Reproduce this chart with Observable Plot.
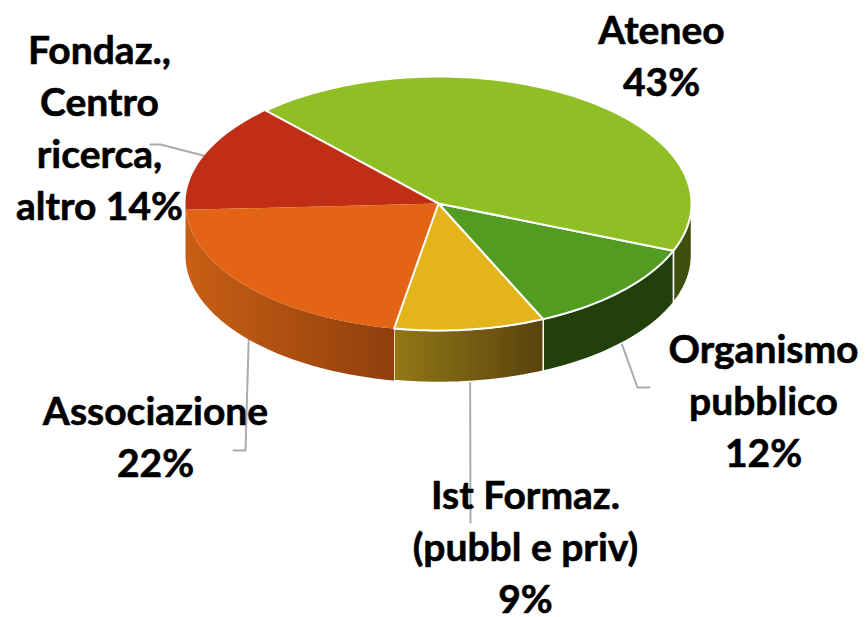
<!DOCTYPE html>
<html>
<head>
<meta charset="utf-8">
<script src="https://cdn.jsdelivr.net/npm/d3@7"></script>
<script src="https://cdn.jsdelivr.net/npm/@observablehq/plot@0.6"></script>
<style>html,body{margin:0;padding:0;background:#fff}svg{display:block}</style>
</head>
<body>
<div id="chart"></div>
<script>
const names = ["Ateneo", "Organismo pubblico", "Ist Formaz.", "Associazione", "Fondaz."];
const shares = [43, 12.15, 9.6, 21.4, 13.85];
const labels = ["Ateneo\n43%", "Organismo\npubblico\n12%", "Ist Formaz.\n(pubbl e priv)\n9%", "Associazione\n22%", "Fondaz.,\nCentro\nricerca,\naltro 14%"];
const topColors = ["#8FBF24", "#529C21", "#E3B51B", "#E46416", "#C02F15"];
const sideColors = ["#3E4F0E", "#21400B", "url(#sideIst)", "url(#sideAss)", "#9A3A12"];

// layout of the drawing
const W = 866, H = 617;
const cx = 438, cy = 203, rx = 253, ry = 127, depth = 52, startDeg = -43;
const labelPos = [[661, 53], [763, 398], [525, 544], [155, 434], [99, 125]];
const leaderElbows = [null, [[637, 387], [649, 387]], [[470, 522]], [[245, 450], [233, 450]], [[160, 144], [150, 144]]];
const topDrawOrder = [4, 3, 2, 1, 0];
const edgeStroke = [true, true, true, false, false];

const rad = d => d * Math.PI / 180;
const ex = a => cx + rx * Math.sin(rad(a));
const ey = a => cy - ry * Math.cos(rad(a));

let acc = startDeg;
const slices = shares.map((s, i) => {
  const a0 = acc, a1 = acc + s * 3.6;
  acc = a1;
  return {i, a0, a1, mid: (a0 + a1) / 2};
});

function arcPts(a0, a1) {
  const n = Math.max(2, Math.ceil((a1 - a0) / 1.5));
  return d3.range(n + 1).map(k => a0 + (a1 - a0) * k / n);
}
function topPoly(s) {
  return [{x: cx, y: cy}, ...arcPts(s.a0, s.a1).map(a => ({x: ex(a), y: ey(a)}))];
}
function sidePoly(s) {
  const a0 = Math.max(s.a0, 90), a1 = Math.min(s.a1, 270);
  if (a1 <= a0) return [];
  const arc = arcPts(a0, a1);
  return [...arc.map(a => ({x: ex(a), y: ey(a)})),
          ...arc.slice().reverse().map(a => ({x: ex(a), y: ey(a) + depth}))];
}
function leader(s) {
  const el = leaderElbows[s.i];
  if (!el) return [];
  const front = s.mid > 90 && s.mid < 270;
  return [{x: ex(s.mid), y: ey(s.mid) + (front ? depth : 0)}, ...el.map(([x, y]) => ({x, y}))];
}

function gradient(defs, id, c0, c1) {
  const g = defs.append("linearGradient").attr("id", id).attr("x1", 0).attr("x2", 1).attr("y1", 0).attr("y2", 0);
  g.append("stop").attr("offset", 0).attr("stop-color", c0);
  g.append("stop").attr("offset", 1).attr("stop-color", c1);
}
const defsMark = () => {
  const defs = d3.create("svg:defs");
  gradient(defs, "sideAss", "#C95F14", "#8F3F0D");
  gradient(defs, "sideIst", "#927816", "#5A420E");
  return defs.node();
};

const plot = Plot.plot({
  width: W, height: H,
  margin: 0,
  x: {domain: [0, W], range: [0, W], axis: null},
  y: {domain: [0, H], range: [0, H], axis: null},
  style: {background: "#fff"},
  marks: [
    defsMark,
    ...slices.map(s => Plot.line(leader(s), {x: "x", y: "y", stroke: "#ABABAB", strokeWidth: 2})),
    ...slices.map(s => Plot.line(sidePoly(s), {
      x: "x", y: "y", curve: "linear-closed",
      fill: sideColors[s.i],
      stroke: edgeStroke[s.i] ? "#fff" : "none", strokeWidth: 1.5
    })),
    ...topDrawOrder.map(i => Plot.line(topPoly(slices[i]), {
      x: "x", y: "y", curve: "linear-closed",
      fill: topColors[i],
      stroke: edgeStroke[i] ? "#fff" : "none", strokeWidth: 2, strokeLinejoin: "round"
    })),
    Plot.text(labels, {
      x: (d, i) => labelPos[i][0],
      y: (d, i) => labelPos[i][1],
      text: d => d,
      lineAnchor: "middle",
      lineHeight: 1.335,
      fontFamily: "Lato, 'Open Sans', sans-serif",
      fontWeight: 700,
      fontSize: 39,
      fill: "#000",
      stroke: "#000",
      strokeWidth: 0.6
    })
  ]
});
document.getElementById("chart").append(plot);
</script>
</body>
</html>
